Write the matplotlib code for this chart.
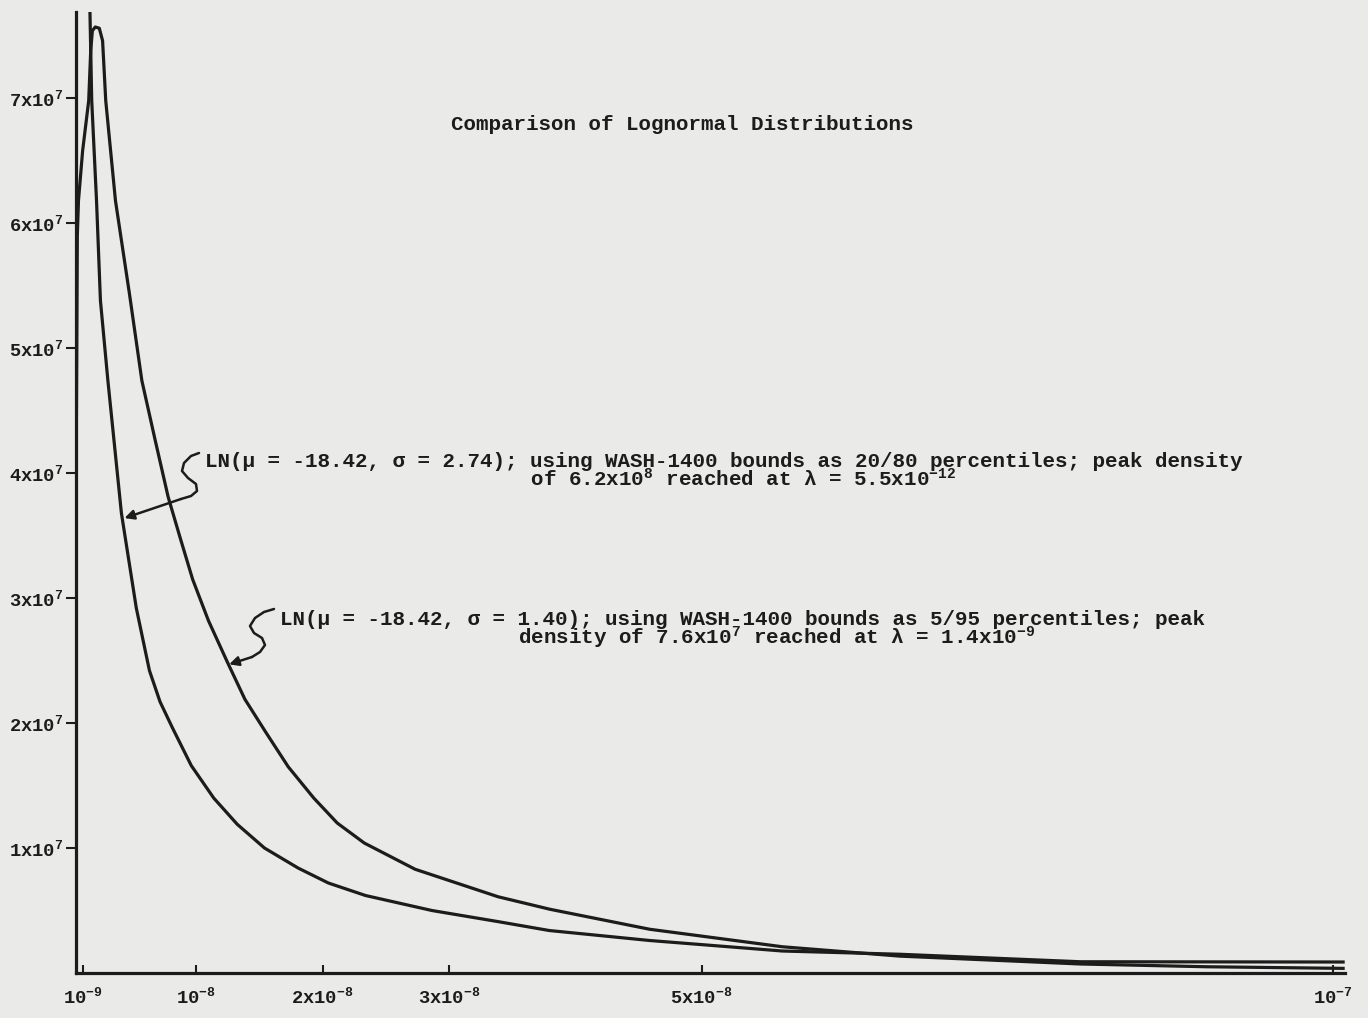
import numpy as np
import matplotlib.pyplot as plt
from matplotlib.lines import Line2D

plt.rcParams['font.family'] = ['Liberation Mono', 'DejaVu Sans Mono']
plt.rcParams['font.weight'] = 'bold'
plt.rcParams['mathtext.fontset'] = 'custom'
plt.rcParams['mathtext.rm'] = 'Liberation Mono:bold'
plt.rcParams['mathtext.it'] = 'Liberation Mono:bold'
plt.rcParams['mathtext.bf'] = 'Liberation Mono:bold'
plt.rcParams['mathtext.default'] = 'rm'

# values (lambda in units of 1e-9, density in units of 1e7)
lam_s140 = [0.50, 0.58, 0.67, 1.00, 1.48, 1.64, 1.77, 2.00, 2.32, 2.58, 2.83, 3.60,
            4.70, 5.69, 6.73, 7.77, 8.70, 9.71, 10.96, 12.45, 13.85, 15.48, 17.28,
            19.3, 21.16, 23.3, 27.33, 33.9, 38.0, 45.9, 56.4, 65.7, 80.0, 90.0, 100.8]
dens_s140 = [4.26, 5.90, 6.18, 6.58, 6.98, 7.38, 7.54, 7.57, 7.56, 7.46, 6.98, 6.18,
             5.44, 4.74, 4.27, 3.81, 3.49, 3.15, 2.82, 2.49, 2.19, 1.93, 1.65,
             1.40, 1.20, 1.04, 0.83, 0.61, 0.51, 0.35, 0.21, 0.135, 0.072, 0.05, 0.037]

lam_s274 = [1.58, 1.72, 2.10, 2.41, 3.00, 4.07, 5.25, 6.29, 7.13, 8.12, 9.60, 11.38,
            13.24, 15.4, 18.06, 20.46, 23.4, 28.66, 33.96, 37.94, 45.9, 56.4, 65.7,
            80.0, 100.8]
dens_s274 = [7.69, 6.98, 6.18, 5.38, 4.74, 3.68, 2.92, 2.42, 2.17, 1.96, 1.66, 1.40,
             1.19, 1.00, 0.84, 0.72, 0.62, 0.50, 0.41, 0.34, 0.26, 0.176, 0.15,
             0.09, 0.088]

x_ticks = [1e-9, 1e-8, 2e-8, 3e-8, 5e-8, 1e-7]
x_labels = ['10$^{-9}$', '10$^{-8}$', '2x10$^{-8}$', '3x10$^{-8}$', '5x10$^{-8}$', '10$^{-7}$']
y_ticks = [1e7, 2e7, 3e7, 4e7, 5e7, 6e7, 7e7]
y_labels = ['%dx10$^{7}$' % k for k in range(1, 8)]

title = 'Comparison of Lognormal Distributions'
# typewritten notes: second line indented with spaces as on the original
note1 = ('LN(\u03bc = -18.42, \u03c3 = 2.74); using WASH-1400 bounds as 20/80 percentiles; peak density\n'
         + ' ' * 26 + 'of 6.2x10$^{8}$ reached at \u03bb = 5.5x10$^{-12}$')
note2 = ('LN(\u03bc = -18.42, \u03c3 = 1.40); using WASH-1400 bounds as 5/95 percentiles; peak\n'
         + ' ' * 19 + 'density of 7.6x10$^{7}$ reached at \u03bb = 1.4x10$^{-9}$')

W, H = 1368, 1018
ink = '#1c1c1c'
paper = '#eaeae8'

fig = plt.figure(figsize=(W / 100, H / 100), dpi=100, facecolor=paper)
ax = fig.add_axes([76 / W, 1 - 973 / H, (1345 - 76) / W, (973 - 12) / H])
ax.set_facecolor('none')

lam1 = np.array(lam_s140) * 1e-9
lam2 = np.array(lam_s274) * 1e-9
ax.plot(lam1, np.array(dens_s140) * 1e7, color=ink, lw=2.3, solid_joinstyle='round')
ax.plot(lam2, np.array(dens_s274) * 1e7, color=ink, lw=2.3, solid_joinstyle='round')

ax.set_xlim(0.475e-9, 1.0095e-7)
ax.set_ylim(0, 7.69e7)

ax.set_xticks(x_ticks)
ax.set_xticklabels(x_labels, fontsize=13.5)
ax.set_yticks(y_ticks)
ax.set_yticklabels(y_labels, fontsize=13.5)
ax.tick_params(axis='x', direction='in', length=6, width=1.5, pad=10, colors=ink)
ax.tick_params(axis='y', direction='out', length=7, width=1.5, pad=2, colors=ink)

for s in ['top', 'right']:
    ax.spines[s].set_visible(False)
for s in ['left', 'bottom']:
    ax.spines[s].set_linewidth(2.3)
    ax.spines[s].set_color(ink)

# title and annotations (figure pixel positions)
def fp(px, py):
    return px / W, 1 - py / H

fig.text(*fp(682, 124), title, ha='center', va='center', fontsize=15, color=ink)
fig.text(*fp(205, 452), note1, ha='left', va='top', fontsize=15, color=ink,
         linespacing=0.82)
fig.text(*fp(280, 610), note2, ha='left', va='top', fontsize=15, color=ink,
         linespacing=0.76)

# S-shaped leaders
s1 = [(199, 453), (191, 456), (184, 463), (182, 471), (188, 478), (196, 484), (197, 491), (191, 496), (181, 499)]
s2 = [(274, 609), (264, 612), (255, 618), (250, 626), (254, 633), (262, 638), (265, 645), (260, 652), (252, 657)]
for pts in (s1, s2):
    xs = [p[0] / W for p in pts]
    ys = [1 - p[1] / H for p in pts]
    fig.add_artist(Line2D(xs, ys, transform=fig.transFigure, color=ink, lw=1.8,
                          solid_joinstyle='round', solid_capstyle='round'))

arrow = dict(arrowstyle='-|>', color=ink, lw=1.8, mutation_scale=14, shrinkA=0, shrinkB=0)
ax.annotate('', xy=(4.31e-9, 3.64e7), xytext=(181, H - 499),
            textcoords='figure pixels', arrowprops=arrow)
ax.annotate('', xy=(1.26e-8, 2.47e7), xytext=(252, H - 657),
            textcoords='figure pixels', arrowprops=arrow)

fig.savefig('out.png', dpi=100, facecolor=paper)
